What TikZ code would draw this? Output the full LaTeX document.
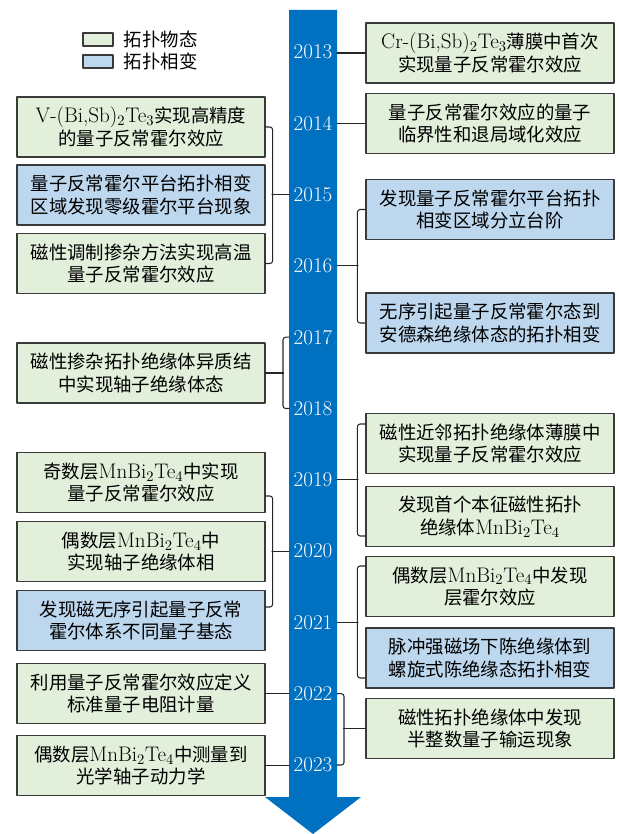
\documentclass[tikz,border=0pt]{standalone}
\usepackage{fontspec}
\newfontfamily\cjk{Noto Sans CJK SC}
\usetikzlibrary{positioning}
\definecolor{tpgreen}{HTML}{E2EFDA}
\definecolor{tpblue}{HTML}{BDD7EE}
\definecolor{shaftblue}{HTML}{0070C0}
\definecolor{boxline}{HTML}{3A3A3A}
\newcommand{\chem}[1]{{\fontsize{15.8}{17}\selectfont\rmfamily #1}}
\begin{document}
\begin{tikzpicture}[x=0.75pt, y=-0.75pt, line join=round, line cap=round,
    box/.style={draw=boxline, line width=0.9pt, minimum width=186pt, minimum height=45pt, inner sep=0pt, align=center, font=\fontsize{13.8}{17}\selectfont\cjk},
    legbox/.style={draw=boxline, line width=0.9pt, minimum width=22.5pt, minimum height=9.75pt, inner sep=0pt},
    legtext/.style={inner sep=0pt, font=\fontsize{13.8}{17}\selectfont\cjk},
    yr/.style={text=white, inner sep=0pt, font=\fontsize{15.8}{16}\selectfont},
    link/.style={line width=0.8pt, black!85},
    brace/.style={link, rounded corners=2pt}]
    \useasboundingbox (0,0) rectangle (618,834);
    % time axis
    \fill[shaftblue] (289,10) -- (337,10) -- (337,797) -- (361,797) -- (313,834) -- (265,797) -- (289,797) -- cycle;
    \coordinate (sl) at (289,0);
    \coordinate (sr) at (337,0);
    \foreach \yr [count=\i from 0] in {2013,...,2023}
        \node[yr] (y\yr) at (313,{52+71.3*\i}) {\yr};
    % legend
    \node[legbox, fill=tpgreen] (lg1) at (98,39.5) {};
    \node[legtext, right=7.5pt of lg1] (lt1) {拓扑物态};
    \node[legbox, fill=tpblue] (lg2) at (98,61.5) {};
    \node[legtext, right=7.5pt of lg2] (lt2) {拓扑相变};
    % left column
    \node[box, fill=tpgreen] (l1) at (141,127) {\chem{V-(Bi,Sb)$_2$Te$_3$}实现高精度\\的量子反常霍尔效应};
    \node[box, fill=tpblue] (l2) at (141,195) {量子反常霍尔平台拓扑相变\\区域发现零级霍尔平台现象};
    \node[box, fill=tpgreen] (l3) at (141,263.5) {磁性调制掺杂方法实现高温\\量子反常霍尔效应};
    \node[box, fill=tpgreen] (l4) at (141,373) {磁性掺杂拓扑绝缘体异质结\\中实现轴子绝缘体态};
    \node[box, fill=tpgreen] (l5) at (141,482.5) {奇数层\chem{MnBi$_2$Te$_4$}中实现\\量子反常霍尔效应};
    \node[box, fill=tpgreen] (l6) at (141,551.5) {偶数层\chem{MnBi$_2$Te$_4$}中\\实现轴子绝缘体相};
    \node[box, fill=tpblue] (l7) at (141,620.5) {发现磁无序引起量子反常\\霍尔体系不同量子基态};
    \node[box, fill=tpgreen] (l8) at (141,693.5) {利用量子反常霍尔效应定义\\标准量子电阻计量};
    \node[box, fill=tpgreen] (l9) at (141,765.5) {偶数层\chem{MnBi$_2$Te$_4$}中测量到\\光学轴子动力学};
    % right column
    \node[box, fill=tpgreen] (r1) at (490,53) {\chem{Cr-(Bi,Sb)$_2$Te$_3$}薄膜中首次\\实现量子反常霍尔效应};
    \node[box, fill=tpgreen] (r2) at (490,123.5) {量子反常霍尔效应的量子\\临界性和退局域化效应};
    \node[box, fill=tpblue] (r3) at (490,209.5) {发现量子反常霍尔平台拓扑\\相变区域分立台阶};
    \node[box, fill=tpblue] (r4) at (490,323) {无序引起量子反常霍尔态到\\安德森绝缘体态的拓扑相变};
    \node[box, fill=tpgreen] (r5) at (490,443.5) {磁性近邻拓扑绝缘体薄膜中\\实现量子反常霍尔效应};
    \node[box, fill=tpgreen] (r6) at (490,516.5) {发现首个本征磁性拓扑\\绝缘体\chem{MnBi$_2$Te$_4$}};
    \node[box, fill=tpgreen] (r7) at (490,586.5) {偶数层\chem{MnBi$_2$Te$_4$}中发现\\层霍尔效应};
    \node[box, fill=tpblue] (r8) at (490,658) {脉冲强磁场下陈绝缘体到\\螺旋式陈绝缘态拓扑相变};
    \node[box, fill=tpgreen] (r9) at (490,728.5) {磁性拓扑绝缘体中发现\\半整数量子输运现象};
    % connectors
    \draw[link] (r1.west) -- (r1.west -| sr);
    \draw[link] (r2.west) -- (r2.west -| sr);
    \draw[brace] (l1.east) -- ++(7,0) |- (l3.east);
    \draw[link] (y2015 -| sl) -- ++(-17,0);
    \draw[brace] (r3.west) -- ++(-8,0) |- (r4.west);
    \draw[link] (y2016 -| sr) -- ++(21,0);
    \draw[brace] (y2017 -| sl) -- ++(-6,0) |- (y2018 -| sl);
    \draw[link] (l4.east) -- ++(18,0);
    \draw[brace] (r5.west |- 0,424) -- ++(-8,0) |- (r6.west |- 0,536);
    \draw[link] (y2019 -| sr) -- ++(21,0);
    \draw[brace] (l5.east |- 0,496) -- ++(7,0) |- (l7.east |- 0,607);
    \draw[link] (y2020 -| sl) -- ++(-17,0);
    \draw[brace] (r7.west |- 0,566) -- ++(-8,0) |- (r8.west |- 0,678);
    \draw[link] (y2021 -| sr) -- ++(21,0);
    \draw[link] (l8.east) -- (l8.east -| sl);
    \draw[link] (l9.east) -- (l9.east -| sl);
    \draw[brace] (y2022 -| sr) -- ++(7,0) |- (y2023 -| sr);
    \draw[link] (r9.west) -- ++(-22,0);
\end{tikzpicture}
\end{document}
